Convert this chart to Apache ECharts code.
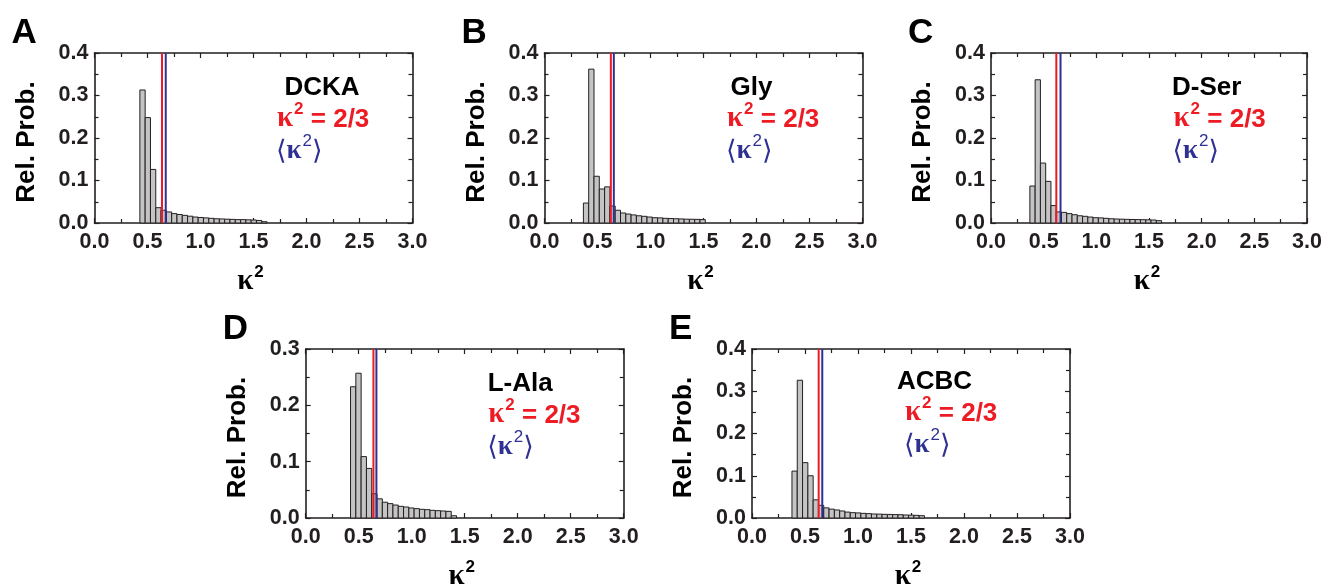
<!DOCTYPE html>
<html>
<head>
<meta charset="utf-8">
<script src="https://cdn.jsdelivr.net/npm/echarts@6/dist/echarts.min.js"></script>
<style>
html,body{margin:0;padding:0;background:#fff;}
#c{width:1325px;height:586px;}
</style>
</head>
<body>
<div id="c"></div>
<script>
// ---- data ----
const panelLetters = ['A', 'B', 'C', 'D', 'E'];
const panelNames = ['DCKA', 'Gly', 'D-Ser', 'L-Ala', 'ACBC'];
const xTickLabels = ['0.0', '0.5', '1.0', '1.5', '2.0', '2.5', '3.0'];
const binWidth = 0.05;
const firstBinCenter = [0.453, 0.392, 0.394, 0.448, 0.402];
const yMaxes = [0.4, 0.4, 0.4, 0.3, 0.4];

const probDCKA = [0.313, 0.248, 0.126, 0.036, 0.030, 0.026, 0.022, 0.020, 0.018, 0.016, 0.014, 0.013, 0.012, 0.011, 0.010, 0.0095, 0.009, 0.0085, 0.008, 0.008, 0.0075, 0.007, 0.006, 0.003];
const probGly = [0.047, 0.362, 0.110, 0.080, 0.085, 0.040, 0.030, 0.0235, 0.021, 0.019, 0.017, 0.0157, 0.014, 0.0125, 0.012, 0.011, 0.0105, 0.010, 0.0095, 0.009, 0.0088, 0.0085, 0.008];
const probDSer = [0.087, 0.337, 0.141, 0.098, 0.041, 0.026, 0.025, 0.022, 0.0195, 0.017, 0.0157, 0.014, 0.0125, 0.012, 0.011, 0.010, 0.0094, 0.009, 0.0086, 0.0083, 0.008, 0.0078, 0.0075, 0.007, 0.0055];
const probLAla = [0.233, 0.257, 0.109, 0.088, 0.043, 0.034, 0.028, 0.0255, 0.023, 0.0207, 0.0195, 0.0178, 0.0166, 0.0154, 0.0148, 0.0136, 0.013, 0.0124, 0.0118, 0.004];
const probACBC = [0.111, 0.326, 0.131, 0.100, 0.043, 0.030, 0.024, 0.021, 0.019, 0.0166, 0.014, 0.0126, 0.012, 0.011, 0.0103, 0.0095, 0.0092, 0.0087, 0.0084, 0.008, 0.0078, 0.0071, 0.0068, 0.0063, 0.0055];
const probs = [probDCKA, probGly, probDSer, probLAla, probACBC];

// vertical reference lines (as drawn)
const lineTwoThirds = [0.637, 0.626, 0.620, 0.639, 0.629];
const lineMean = [0.672, 0.654, 0.660, 0.667, 0.663];

// ---- layout ----
const grids = [
  {left: 94.5, top: 53, width: 318, height: 170},
  {left: 544.5, top: 53, width: 318, height: 170},
  {left: 991, top: 53, width: 318, height: 170},
  {left: 305.7, top: 349, width: 318, height: 169},
  {left: 752, top: 349, width: 318, height: 169}
];
const nameOffsetX = [190, 186, 181, 182, 145];
const insetOffsetX = [182.5, 182.5, 182.5, 182.5, 153];
const insetTop = [0, 0, 0, 296, 294];

const INK = '#231f20';
const RED = '#ed1c24';
const NAVY = '#2e3192';
const FONT = '"Liberation Sans", Arial, sans-serif';
const SERIF = '"Liberation Serif", "Times New Roman", serif';

const xAxes = [], yAxes = [], series = [], graphics = [];
const axisLineStyle = {color: INK, width: 1.6};

grids.forEach((g, i) => {
  const tick = {show: true, inside: true, length: 5, lineStyle: {color: INK, width: 1.2}};
  const minor = {show: true, splitNumber: 2, length: 4, lineStyle: {color: INK, width: 1.2}};
  const common = {
    gridIndex: i, type: 'value', min: 0, max: 3, interval: 0.5,
    axisLine: {show: true, onZero: false, lineStyle: axisLineStyle},
    axisTick: tick, minorTick: minor,
    splitLine: {show: false}, minorSplitLine: {show: false}
  };
  xAxes.push(Object.assign({}, common, {
    position: 'bottom',
    axisLabel: {show: true, fontFamily: FONT, fontWeight: 'bold', fontSize: 21.5, color: INK, margin: 8,
      formatter: v => xTickLabels[Math.round(v / 0.5)]}
  }));
  xAxes.push(Object.assign({}, common, {position: 'top', axisLabel: {show: false}}));
  const ycommon = {
    gridIndex: i, type: 'value', min: 0, max: yMaxes[i], interval: 0.1,
    axisLine: {show: true, onZero: false, lineStyle: axisLineStyle},
    axisTick: tick, minorTick: minor,
    splitLine: {show: false}, minorSplitLine: {show: false}
  };
  yAxes.push(Object.assign({}, ycommon, {
    position: 'left',
    axisLabel: {show: true, fontFamily: FONT, fontWeight: 'bold', fontSize: 21.5, color: INK, margin: 6,
      formatter: v => v.toFixed(1)}
  }));
  yAxes.push(Object.assign({}, ycommon, {position: 'right', axisLabel: {show: false}}));

  const data = probs[i].map((v, k) => [firstBinCenter[i] + k * binWidth, v]);
  series.push({
    type: 'custom', xAxisIndex: 2 * i, yAxisIndex: 2 * i, data: data, z: 2,
    renderItem: function (params, api) {
      const x = api.value(0), y = api.value(1);
      const p0 = api.coord([x - binWidth / 2, y]);
      const p1 = api.coord([x + binWidth / 2, 0]);
      return {
        type: 'rect',
        shape: {x: p0[0], y: p0[1], width: p1[0] - p0[0], height: p1[1] - p0[1]},
        style: {fill: '#c4c4c4', stroke: INK, lineWidth: 1}
      };
    }
  });
  series.push({
    type: 'line', xAxisIndex: 2 * i, yAxisIndex: 2 * i, z: 5, symbol: 'none', silent: true,
    data: [[lineTwoThirds[i], 0], [lineTwoThirds[i], yMaxes[i]]],
    lineStyle: {color: RED, width: 2}
  });
  series.push({
    type: 'line', xAxisIndex: 2 * i, yAxisIndex: 2 * i, z: 5, symbol: 'none', silent: true,
    data: [[lineMean[i], 0], [lineMean[i], yMaxes[i]]],
    lineStyle: {color: NAVY, width: 2}
  });

  // panel letter
  graphics.push({type: 'text', left: g.left - 83, top: g.top - 37,
    style: {text: panelLetters[i], font: 'bold 35px ' + FONT, fill: '#000'}});
  // y title
  graphics.push({type: 'text', x: g.left - 68, y: g.top + g.height / 2 + 4, rotation: Math.PI / 2,
    style: {text: 'Rel. Prob.', font: 'bold 26px ' + FONT, fill: '#000', align: 'center', verticalAlign: 'middle'}});
  // x title
  graphics.push({type: 'text', x: g.left + g.width / 2 - 3, y: g.top + g.height + 57,
    style: {
      text: '{k|κ}{s|2}', align: 'center', verticalAlign: 'middle',
      rich: {
        k: {font: 'bold 29px ' + SERIF, fill: '#000', lineHeight: 32, verticalAlign: 'bottom'},
        s: {font: 'bold 17px ' + FONT, fill: '#000', lineHeight: 32, verticalAlign: 'top', padding: [0, 0, 0, 1]}
      }
    }});
  // inset texts
  const tx = g.left + insetOffsetX[i];
  const yoff = insetTop[i];
  graphics.push({type: 'text', left: g.left + nameOffsetX[i], top: 75 + yoff,
    style: {text: panelNames[i], font: 'bold 26px ' + FONT, fill: '#000'}});
  graphics.push({type: 'text', x: tx, y: 117 + yoff,
    style: {
      text: '{k|κ}{s|2}{t| = 2/3}', verticalAlign: 'middle',
      rich: {
        k: {font: 'bold 29px ' + SERIF, fill: RED, lineHeight: 32, verticalAlign: 'bottom'},
        s: {font: 'bold 17px ' + FONT, fill: RED, lineHeight: 32, verticalAlign: 'top', padding: [0, 0, 0, 1]},
        t: {font: 'bold 26px ' + FONT, fill: RED, lineHeight: 32, verticalAlign: 'bottom'}
      }
    }});
  graphics.push({type: 'text', x: tx - 1, y: 149 + yoff,
    style: {
      text: '{b|⟨}{k|κ}{s|2}{b|⟩}', verticalAlign: 'middle',
      rich: {
        b: {font: '27px "DejaVu Sans", sans-serif', fill: NAVY, lineHeight: 32, verticalAlign: 'bottom'},
        k: {font: 'bold 27px ' + SERIF, fill: NAVY, lineHeight: 32, verticalAlign: 'bottom'},
        s: {font: '17px ' + FONT, fill: NAVY, lineHeight: 32, verticalAlign: 'top', padding: [0, 0, 0, 1]}
      }
    }});
});

const chart = echarts.init(document.getElementById('c'), null, {renderer: 'canvas'});
chart.setOption({
  animation: false,
  backgroundColor: '#fff',
  grid: grids.map(g => Object.assign({containLabel: false}, g)),
  xAxis: xAxes,
  yAxis: yAxes,
  series: series,
  graphic: graphics
});
</script>
</body>
</html>
